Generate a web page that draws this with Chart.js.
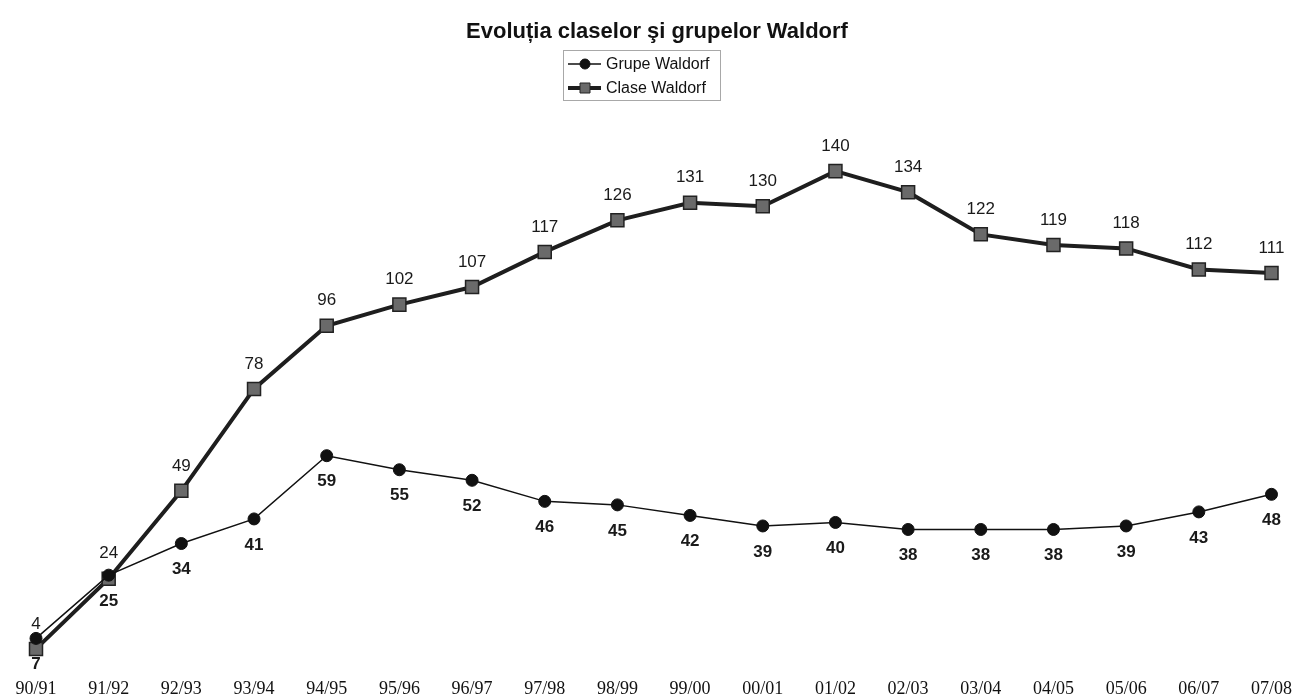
<!DOCTYPE html>
<html>
<head>
<meta charset="utf-8">
<script src="https://cdn.jsdelivr.net/npm/chart.js@4/dist/chart.umd.min.js"></script>
<style>
  html, body { margin: 0; padding: 0; background: #fff; }
  #wrap { width: 1302px; height: 698px; }
</style>
</head>
<body>
<div id="wrap"><canvas id="c" width="1302" height="698"></canvas></div>
<script>
const years = ['90/91', '91/92', '92/93', '93/94', '94/95', '95/96', '96/97', '97/98', '98/99',
  '99/00', '00/01', '01/02', '02/03', '03/04', '04/05', '05/06', '06/07', '07/08'];
const grupe = [7, 25, 34, 41, 59, 55, 52, 46, 45, 42, 39, 40, 38, 38, 38, 39, 43, 48];
const clase = [4, 24, 49, 78, 96, 102, 107, 117, 126, 131, 130, 140, 134, 122, 119, 118, 112, 111];

const SANS = '"Liberation Sans", Arial, sans-serif';

// value labels: Clase above (normal), Grupe below (bold)
const valueLabels = {
  id: 'valueLabels',
  afterDatasetsDraw(chart) {
    const ctx = chart.ctx;
    ctx.save();
    ctx.textAlign = 'center';
    ctx.textBaseline = 'middle';
    ctx.fillStyle = '#1a1a1a';
    chart.data.datasets.forEach((ds, di) => {
      const meta = chart.getDatasetMeta(di);
      const below = ds.labelPos === 'below';
      ctx.font = (below ? 'bold ' : '') + '17px ' + SANS;
      meta.data.forEach((pt, i) => {
        ctx.fillText(String(ds.data[i]), pt.x, pt.y + (below ? 26 : -25));
      });
    });
    ctx.restore();
  }
};

// boxed legend with line + marker samples
const boxLegend = {
  id: 'boxLegend',
  afterDraw(chart) {
    const ctx = chart.ctx;
    const x0 = 563, y0 = 50, w = 157, h = 50;
    ctx.save();
    ctx.strokeStyle = '#a8a8a8';
    ctx.lineWidth = 1;
    ctx.strokeRect(x0 + 0.5, y0 + 0.5, w, h);
    chart.data.datasets.forEach((ds, i) => {
      const y = y0 + 14 + i * 24;
      ctx.strokeStyle = ds.borderColor;
      ctx.lineWidth = ds.borderWidth;
      ctx.beginPath();
      ctx.moveTo(x0 + 5, y);
      ctx.lineTo(x0 + 38, y);
      ctx.stroke();
      ctx.fillStyle = ds.pointBackgroundColor;
      ctx.strokeStyle = ds.pointBorderColor;
      ctx.lineWidth = 1;
      ctx.beginPath();
      if (ds.pointStyle === 'rect') {
        ctx.rect(x0 + 22 - 5, y - 5, 10, 10);
      } else {
        ctx.arc(x0 + 22, y, 5, 0, Math.PI * 2);
      }
      ctx.fill();
      ctx.stroke();
      ctx.fillStyle = '#111';
      ctx.font = '16px ' + SANS;
      ctx.textAlign = 'left';
      ctx.textBaseline = 'middle';
      ctx.fillText(ds.label, x0 + 43, y + 1);
    });
    ctx.restore();
  }
};

new Chart(document.getElementById('c'), {
  type: 'line',
  plugins: [valueLabels, boxLegend],
  data: {
    labels: years,
    datasets: [{
      label: 'Grupe Waldorf',
      data: grupe,
      labelPos: 'below',
      borderColor: '#111',
      borderWidth: 1.5,
      pointStyle: 'circle',
      pointRadius: 6,
      pointBackgroundColor: '#111',
      pointBorderColor: '#111',
      pointBorderWidth: 1,
      tension: 0
    }, {
      label: 'Clase Waldorf',
      data: clase,
      labelPos: 'above',
      borderColor: '#1e1e1e',
      borderWidth: 4,
      pointStyle: 'rect',
      pointRadius: 9.2,
      pointBackgroundColor: '#6a6a6a',
      pointBorderColor: '#222',
      pointBorderWidth: 1.5,
      tension: 0
    }]
  },
  options: {
    responsive: false,
    animation: false,
    events: [],
    layout: { padding: { left: 36, right: 24, top: 0, bottom: 0 } },
    plugins: {
      legend: { display: false },
      tooltip: { enabled: false },
      title: {
        display: true,
        text: 'Evoluția claselor şi grupelor Waldorf',
        color: '#111',
        font: { family: SANS, size: 22, weight: 'bold', lineHeight: 1.2 },
        padding: { top: 19, bottom: 66 }
      }
    },
    scales: {
      x: {
        offset: false,
        grid: { display: false, drawTicks: false },
        border: { display: false },
        afterFit(scale) { scale.height = 28; }, // keep the label strip tight to the bottom
        ticks: {
          color: '#111',
          padding: 10,
          maxRotation: 0,
          autoSkip: false,
          font: { family: '"Liberation Serif", "Times New Roman", serif', size: 18, lineHeight: 1 }
        }
      },
      y: {
        display: false,
        min: -2,
        max: 157
      }
    }
  }
});
</script>
</body>
</html>
